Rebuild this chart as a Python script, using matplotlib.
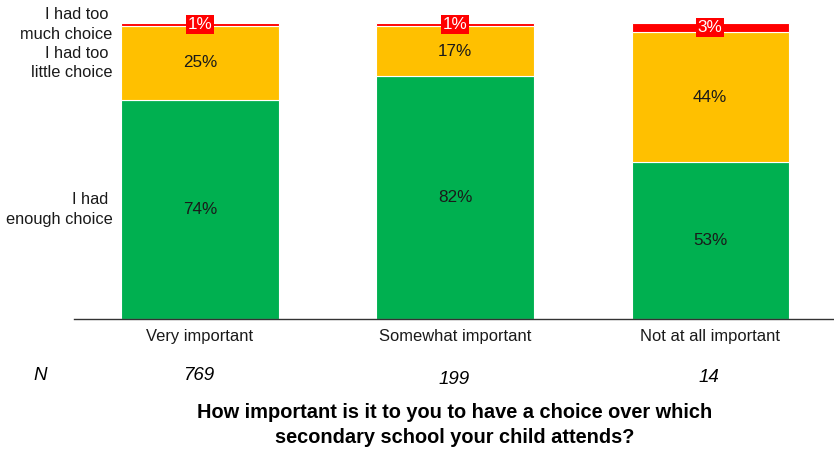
import matplotlib.pyplot as plt
import numpy as np

plt.rcParams['font.family'] = ['Liberation Sans', 'DejaVu Sans']

categories = ['Very important', 'Somewhat important', 'Not at all important']
enough = [74, 82, 53]
too_little = [25, 17, 44]
too_much = [1, 1, 3]
n_values = ['769', '199', '14']
series_labels = ['I had \nenough choice', 'I had too \nlittle choice', 'I had too \nmuch choice']
colors = ['#00B050', '#FFC000', '#FF0000']

fig = plt.figure(figsize=(8.34, 4.5), dpi=100)
ax = fig.add_axes([74 / 834, 1 - 319 / 450, 760 / 834, 296 / 450])

x = np.arange(len(categories))
width = 0.616
bottom = np.zeros(len(categories))
for vals, col in zip([enough, too_little, too_much], colors):
    ax.bar(x, vals, width, bottom=bottom, color=col, edgecolor='white', linewidth=0.8)
    for i, v in enumerate(vals):
        mid = bottom[i] + v / 2
        if col == '#FF0000':
            ax.text(x[i], mid, f'{v}%', ha='center', va='center', fontsize=12.3, color='white',
                    bbox=dict(boxstyle='square,pad=0.12', fc='#FF0000', ec='none'))
        else:
            ax.text(x[i], mid, f'{v}%', ha='center', va='center', fontsize=12.3, color='#1a1a1a')
    bottom += np.array(vals)

# series labels beside first bar
b0 = 0
for vals, lab in zip([enough, too_little, too_much], series_labels):
    ax.text(-width / 2 - 0.035, b0 + vals[0] / 2, lab, ha='right', va='center',
            fontsize=11.8, color='#1a1a1a', linespacing=1.38)
    b0 += vals[0]

ax.set_xlim(-0.494, 2.486)
ax.set_ylim(0, 100)
ax.set_xticks(x)
ax.set_xticklabels(categories, fontsize=11.9, color='#1a1a1a')
ax.tick_params(axis='x', length=0, pad=7)
ax.set_yticks([])
for s in ['top', 'right', 'left']:
    ax.spines[s].set_visible(False)
ax.spines['bottom'].set_color('#333333')
ax.spines['bottom'].set_linewidth(1)

# N row
fig.text(40 / 834, 1 - 375 / 450, 'N', ha='center', va='center', fontsize=13.5, style='italic')
n_y = [375, 380, 377]
for i, (n, yy) in enumerate(zip(n_values, n_y)):
    fig.text((199 + 255 * i) / 834, 1 - yy / 450, n, ha='center', va='center',
             fontsize=13.5, style='italic')

fig.text(455 / 834, 1 - 425 / 450,
         'How important is it to you to have a choice over which\nsecondary school your child attends?',
         ha='center', va='center', fontsize=14.4, fontweight='bold', linespacing=1.38)

fig.savefig('out.png', dpi=100)
